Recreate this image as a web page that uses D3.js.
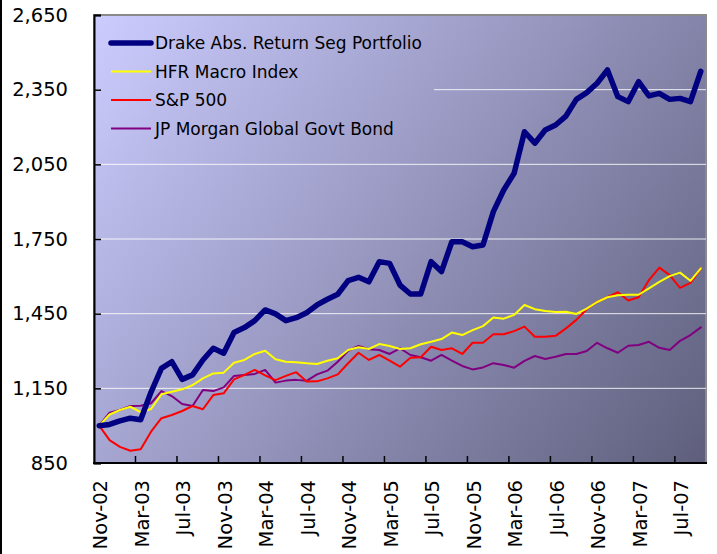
<!DOCTYPE html>
<html>
<head>
<meta charset="utf-8">
<script src="https://cdn.jsdelivr.net/npm/d3@7"></script>
<style>
  body { margin: 0; background: #fff; }
  svg { display: block; font-family: "DejaVu Sans", Verdana, sans-serif; }
</style>
</head>
<body>
<div id="chart"></div>
<script>
// Drake portfolio vs benchmarks, growth of 1,000

const width = 717,
    height = 554,
    margin = ({ top: 15, right: 11, bottom: 91, left: 94 });

const months = d3.timeMonth.range(new Date(2002, 10, 1), new Date(2007, 9, 1))
    .map(d3.timeFormat("%b-%y"));

const yTicks = [850, 1150, 1450, 1750, 2050, 2350, 2650];

const drake = [1000, 1005, 1019, 1030, 1024, 1135, 1230, 1257, 1186, 1204,
    1264, 1311, 1291, 1374, 1394, 1422, 1465, 1449, 1422, 1434,
    1454, 1485, 1508, 1528, 1583, 1596, 1578, 1659, 1652, 1565,
    1529, 1529, 1659, 1619, 1739, 1739, 1719, 1726, 1860, 1947,
    2014, 2181, 2135, 2188, 2208, 2244, 2311, 2338, 2376, 2429,
    2322, 2302, 2382, 2325, 2335, 2311, 2315, 2302, 2424];

const hfr = [1000, 1045, 1063, 1076, 1054, 1067, 1126, 1136, 1146, 1163,
    1190, 1210, 1213, 1253, 1264, 1288, 1301, 1267, 1257, 1255,
    1251, 1248, 1261, 1271, 1304, 1315, 1308, 1328, 1320, 1308,
    1311, 1327, 1337, 1348, 1374, 1364, 1384, 1400, 1435, 1430,
    1445, 1485, 1468, 1461, 1457, 1458, 1449, 1470, 1497, 1516,
    1524, 1526, 1526, 1552, 1578, 1601, 1615, 1582, 1632];

const sp500 = [1000, 942, 915, 899, 905, 976, 1030, 1043, 1059, 1079,
    1066, 1123, 1130, 1186, 1204, 1224, 1202, 1183, 1200, 1215,
    1177, 1178, 1190, 1206, 1251, 1293, 1264, 1284, 1261, 1237,
    1273, 1275, 1317, 1304, 1311, 1288, 1333, 1333, 1367, 1367,
    1380, 1398, 1357, 1357, 1361, 1391, 1425, 1468, 1498, 1516,
    1536, 1503, 1516, 1585, 1635, 1605, 1554, 1574, 1632];

const jpm = [1000, 1052, 1063, 1079, 1080, 1090, 1139, 1119, 1087, 1079,
    1143, 1139, 1154, 1200, 1204, 1208, 1224, 1173, 1181, 1184,
    1180, 1206, 1221, 1257, 1301, 1320, 1307, 1304, 1288, 1311,
    1284, 1275, 1261, 1284, 1261, 1240, 1226, 1234, 1251, 1244,
    1233, 1260, 1280, 1268, 1277, 1288, 1288, 1300, 1333, 1311,
    1293, 1321, 1324, 1337, 1313, 1304, 1341, 1364, 1395];

const series = [
    { name: "Drake Abs. Return Seg Portfolio", values: drake, color: "#000080", width: 5.5 },
    { name: "HFR Macro Index", values: hfr, color: "#ffff00", width: 2 },
    { name: "S&P 500", values: sp500, color: "#ff0000", width: 2 },
    { name: "JP Morgan Global Govt Bond", values: jpm, color: "#800080", width: 2 }
];

const svg = d3.select("#chart")
    .append("svg")
    .attr("width", width)
    .attr("height", height);

const x = d3.scaleBand()
    .domain(months)
    .range([margin.left, width - margin.right]);

const y = d3.scaleLinear()
    .domain([850, 2650])
    .range([height - margin.bottom, margin.top]);

const cx = m => x(m) + x.bandwidth() / 2;

// background gradient
const grad = svg.append("defs").append("linearGradient")
    .attr("id", "bg")
    .attr("gradientUnits", "userSpaceOnUse")
    .attr("x1", margin.left).attr("y1", margin.top)
    .attr("x2", width - margin.right).attr("y2", height - margin.bottom);
grad.append("stop").attr("offset", "0%").attr("stop-color", "#ccccff");
grad.append("stop").attr("offset", "100%").attr("stop-color", "#5e5e7c");

svg.append("rect")
    .attr("x", margin.left)
    .attr("y", margin.top)
    .attr("width", width - margin.left - margin.right)
    .attr("height", height - margin.top - margin.bottom)
    .attr("fill", "url(#bg)")
    .attr("stroke", "#8a8a8a")
    .attr("stroke-width", 2);

// gridlines
svg.append("g")
    .selectAll("line")
    .data(yTicks.slice(1, -1))
    .join("line")
    .attr("x1", margin.left)
    .attr("x2", width - margin.right)
    .attr("y1", d => y(d))
    .attr("y2", d => y(d))
    .attr("stroke", "#fff")
    .attr("stroke-opacity", 0.85)
    .attr("stroke-width", 1);

// legend box sits on the plot and hides the gridline behind it
svg.append("rect")
    .attr("x", margin.left + 6)
    .attr("y", 25)
    .attr("width", 334)
    .attr("height", 118)
    .attr("fill", "url(#bg)");

// axes
const yAxis = svg.append("g")
    .attr("transform", `translate(${margin.left},0)`)
    .call(d3.axisLeft(y).tickValues(yTicks).tickSize(-7).tickPadding(26).tickFormat(d3.format(",")));

const tickIdx = d3.range(4, months.length, 4);
const xAxis = svg.append("g")
    .attr("transform", `translate(0,${height - margin.bottom})`);

xAxis.append("line")
    .attr("x1", margin.left - 1).attr("x2", width - margin.right + 1)
    .attr("stroke", "#000").attr("stroke-width", 2);

xAxis.selectAll("line.tick")
    .data(tickIdx)
    .join("line")
    .attr("class", "tick")
    .attr("x1", i => x(months[i])).attr("x2", i => x(months[i]))
    .attr("y1", 0).attr("y2", -7)
    .attr("stroke", "#000").attr("stroke-width", 1.5);

xAxis.selectAll("text")
    .data(months.filter((m, i) => i % 4 === 0))
    .join("text")
    .attr("transform", d => `translate(${cx(d) + 1},17) rotate(-90)`)
    .attr("dy", "0.36em")
    .attr("text-anchor", "end")
    .attr("font-size", 19.5)
    .attr("fill", "#000")
    .text(d => d);

yAxis.select(".domain").attr("stroke", "#000").attr("stroke-width", 2);
yAxis.selectAll(".tick line").attr("stroke", "#000").attr("stroke-width", 1.5);
yAxis.selectAll(".tick text")
    .attr("font-size", 19.5)
    .attr("font-family", "DejaVu Sans, sans-serif")
    .attr("fill", "#000");

// lines, drawn back to front
const line = d3.line()
    .x((d, i) => cx(months[i]))
    .y(d => y(d));

svg.append("g")
    .selectAll("path")
    .data(series.slice().reverse())
    .join("path")
    .attr("d", d => line(d.values))
    .attr("fill", "none")
    .attr("stroke", d => d.color)
    .attr("stroke-width", d => d.width)
    .attr("stroke-linejoin", "round")
    .attr("stroke-linecap", "round");

// legend
const legend = svg.append("g")
    .selectAll("g")
    .data(series)
    .join("g")
    .attr("transform", (d, i) => `translate(111,${43 + i * 28.5})`);

legend.append("line")
    .attr("x1", 0).attr("x2", 40)
    .attr("stroke", d => d.color)
    .attr("stroke-width", d => d.width)
    .attr("stroke-linecap", d => d.width > 3 ? "round" : "butt");

legend.append("text")
    .attr("x", 44)
    .attr("dy", "0.36em")
    .attr("font-size", 17)
    .attr("fill", "#000")
    .text(d => d.name);

// dark edge at the left of the picture
svg.append("line")
    .attr("x1", 1).attr("x2", 1)
    .attr("y1", 0).attr("y2", height)
    .attr("stroke", "#000")
    .attr("stroke-width", 2);
</script>
</body>
</html>
